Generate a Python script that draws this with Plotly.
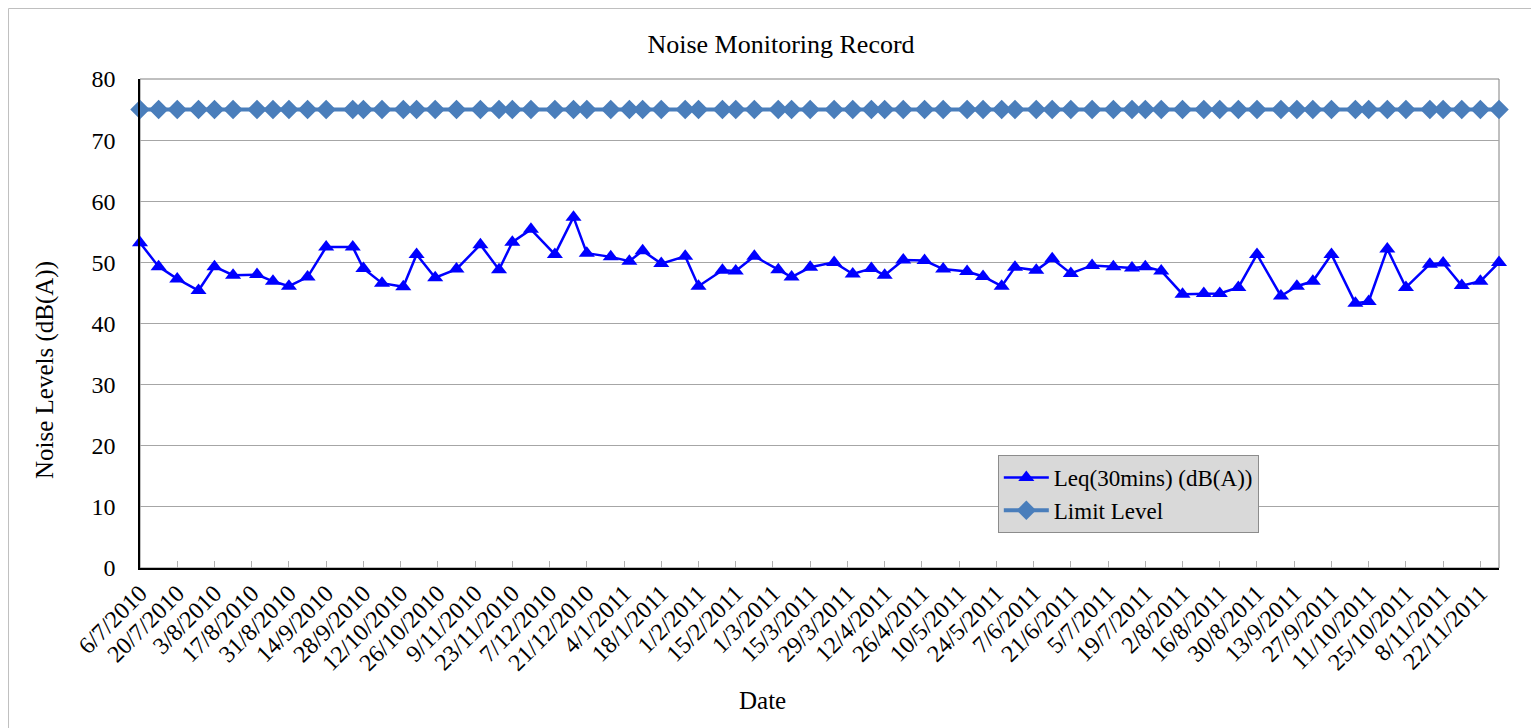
import plotly.graph_objects as go

dates = [
    "2010-07-06", "2010-07-13", "2010-07-20", "2010-07-28", "2010-08-03", "2010-08-10",
    "2010-08-19", "2010-08-25", "2010-08-31", "2010-09-07", "2010-09-14", "2010-09-24",
    "2010-09-28", "2010-10-05", "2010-10-13", "2010-10-18", "2010-10-25", "2010-11-02",
    "2010-11-11", "2010-11-18", "2010-11-23", "2010-11-30", "2010-12-09", "2010-12-16",
    "2010-12-21", "2010-12-30", "2011-01-06", "2011-01-11", "2011-01-18", "2011-01-27",
    "2011-02-01", "2011-02-10", "2011-02-15", "2011-02-22", "2011-03-03", "2011-03-08",
    "2011-03-15", "2011-03-24", "2011-03-31", "2011-04-07", "2011-04-12", "2011-04-19",
    "2011-04-27", "2011-05-04", "2011-05-13", "2011-05-19", "2011-05-26", "2011-05-31",
    "2011-06-08", "2011-06-14", "2011-06-21", "2011-06-29", "2011-07-07", "2011-07-14",
    "2011-07-19", "2011-07-25", "2011-08-02", "2011-08-10", "2011-08-16", "2011-08-23",
    "2011-08-30", "2011-09-08", "2011-09-14", "2011-09-20", "2011-09-27", "2011-10-06",
    "2011-10-11", "2011-10-18", "2011-10-25", "2011-11-03", "2011-11-08", "2011-11-15",
    "2011-11-22", "2011-11-29",
]

leq = [
    53.2, 49.3, 47.3, 45.4, 49.3, 47.9, 48.0, 46.9, 46.1, 47.6,
    52.5, 52.5, 49.0, 46.6, 46.0, 51.3, 47.5, 48.9, 52.9, 48.8,
    53.3, 55.4, 51.3, 57.4, 51.5, 50.9, 50.2, 51.9, 49.8, 51.0,
    46.1, 48.7, 48.6, 51.0, 48.8, 47.6, 49.2, 50.0, 48.1, 49.0,
    47.9, 50.4, 50.3, 48.9, 48.5, 47.7, 46.1, 49.2, 48.7, 50.6,
    48.2, 49.5, 49.3, 49.1, 49.3, 48.6, 44.8, 44.9, 44.9, 45.9,
    51.3, 44.5, 46.1, 46.9, 51.3, 43.3, 43.6, 52.2, 45.9, 49.7,
    49.9, 46.2, 46.9, 50.0,
]

limit = [
    75, 75, 75, 75, 75, 75, 75, 75, 75, 75,
    75, 75, 75, 75, 75, 75, 75, 75, 75, 75,
    75, 75, 75, 75, 75, 75, 75, 75, 75, 75,
    75, 75, 75, 75, 75, 75, 75, 75, 75, 75,
    75, 75, 75, 75, 75, 75, 75, 75, 75, 75,
    75, 75, 75, 75, 75, 75, 75, 75, 75, 75,
    75, 75, 75, 75, 75, 75, 75, 75, 75, 75,
    75, 75, 75, 75,
]

series_names = ["Leq(30mins) (dB(A))", "Limit Level"]
title_text = "Noise Monitoring Record"
x_title = "Date"
y_title = "Noise Levels (dB(A))"

FONT = "Liberation Serif"

fig = go.Figure()
fig.add_trace(go.Scatter(
    x=dates, y=leq, name=series_names[0], mode="lines+markers",
    line=dict(color="#0000ff", width=2.5),
    marker=dict(symbol="triangle-up", size=14, color="#0000ff"),
    cliponaxis=False,
))
fig.add_trace(go.Scatter(
    x=dates, y=limit, name=series_names[1], mode="lines+markers",
    line=dict(color="#4a7ebb", width=4),
    marker=dict(symbol="diamond", size=15, color="#4a7ebb"),
    cliponaxis=False,
))

# page body has an 8px margin: figure is drawn 8px in from the window corner
OFF = 8
W, H = 1539 - OFF, 728 - OFF
L = 140 - OFF
T = 79 - OFF
PR = 1499.3 - OFF
PB = 568 - OFF
R = W - PR
B = H - PB
pw = PR - L
ph = PB - T

def px_x(p):
    return (p - OFF - L) / pw

def px_y(p):
    return (PB - (p - OFF)) / ph

fig.update_layout(
    width=W, height=H,
    margin=dict(l=L, r=R, t=T, b=B, pad=0),
    paper_bgcolor="white", plot_bgcolor="white",
    font=dict(family=FONT, color="black", size=21),
    title=dict(text=title_text, x=(781 - OFF) / W, xanchor="center",
               y=1 - (44 - OFF) / H, yanchor="middle",
               font=dict(size=26, family=FONT)),
    showlegend=True,
    legend=dict(
        x=px_x(998), y=px_y(455), xanchor="left", yanchor="top",
        bgcolor="#d9d9d9", bordercolor="#8c8c8c", borderwidth=1,
        font=dict(size=23, family=FONT), itemwidth=45,
        tracegroupgap=0,
    ),
    xaxis=dict(
        type="date",
        range=["2010-07-06", "2011-11-29"],
        tick0="2010-07-06", dtick=14 * 86400000,
        tickformat="%-d/%-m/%Y", tickangle=-45,
        ticks="inside", ticklen=7, tickcolor="#b0b0b0",
        showline=True, linecolor="black", linewidth=1.5,
        showgrid=False, zeroline=False,
        tickfont=dict(size=24, family=FONT),
    ),
    yaxis=dict(
        range=[0, 80], dtick=10,
        showline=True, linecolor="black", linewidth=1.5,
        showgrid=True, gridcolor="#a6a6a6", gridwidth=1,
        zeroline=False, ticks="", ticklabelstandoff=18,
        tickfont=dict(size=24, family=FONT),
    ),
    shapes=[
        dict(type="rect", xref="paper", yref="paper", x0=0, x1=1, y0=0, y1=1,
             line=dict(color="#808080", width=1), layer="below"),
        dict(type="rect", xref="paper", yref="paper",
             x0=px_x(8.5), x1=px_x(1536.5), y0=px_y(8.5), y1=px_y(740),
             line=dict(color="#bfbfbf", width=1), layer="below"),
    ],
    annotations=[
        dict(text=x_title, xref="paper", yref="paper", x=px_x(763), y=px_y(700),
             xanchor="center", yanchor="middle", showarrow=False,
             font=dict(size=25, family=FONT)),
        dict(text=y_title, xref="paper", yref="paper", x=px_x(45), y=px_y(370),
             xanchor="center", yanchor="middle", showarrow=False, textangle=-90,
             font=dict(size=25, family=FONT)),
    ],
)

fig.write_html("out.html")
